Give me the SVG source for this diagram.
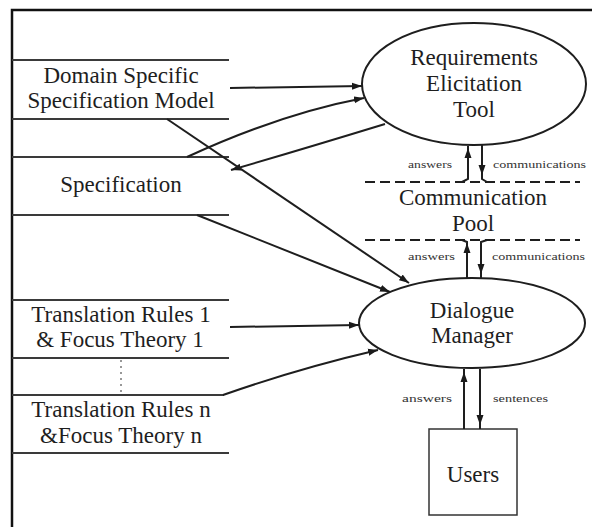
<svg xmlns="http://www.w3.org/2000/svg" width="592" height="527" viewBox="0 0 592 527">
  <defs>
    <marker id="ah" markerUnits="userSpaceOnUse" markerWidth="11" markerHeight="8" refX="10" refY="4" orient="auto">
      <path d="M0,0.5 L10,4 L0,7.5 z" fill="#1a1a1a"/>
    </marker>
    <style>
      .t { font-family: "Liberation Serif", "Times New Roman", serif; font-size: 23px; fill: #1e1e1e; text-anchor: middle; }
      .s { font-family: "Liberation Serif", "Times New Roman", serif; font-size: 11px; fill: #333; }
      .store { stroke: #3a3a3a; stroke-width: 2; fill: none; }
      .shape { stroke: #1e1e1e; stroke-width: 2; fill: none; }
      .c { stroke: #1e1e1e; stroke-width: 2; fill: none; }
      .ca { stroke: #1e1e1e; stroke-width: 2; fill: none; marker-end: url(#ah); }
      .dash { stroke: #1e1e1e; stroke-width: 2; stroke-dasharray: 10 5; fill: none; }
    </style>
  </defs>
  <rect width="592" height="527" fill="#fff"/>

  <!-- frame -->
  <path d="M12,527 L12,10 L592,10" stroke="#111" stroke-width="2.5" fill="none"/>

  <!-- data stores -->
  <g id="store-domain-model">
    <line class="store" x1="12" y1="60" x2="229" y2="60"/>
    <line class="store" x1="12" y1="119" x2="229" y2="119"/>
    <text class="t" x="121" y="83">Domain Specific</text>
    <text class="t" x="121" y="108">Specification Model</text>
  </g>
  <g id="store-specification">
    <line class="store" x1="12" y1="157" x2="229" y2="157"/>
    <line class="store" x1="12" y1="215" x2="229" y2="215"/>
    <text class="t" x="121" y="192">Specification</text>
  </g>
  <g id="store-rules-1">
    <line class="store" x1="12" y1="300" x2="229" y2="300"/>
    <line class="store" x1="12" y1="358" x2="229" y2="358"/>
    <text class="t" x="121" y="322">Translation Rules 1</text>
    <text class="t" x="120" y="347">&amp; Focus Theory 1</text>
    <line x1="121" y1="360" x2="121" y2="394" stroke="#777" stroke-width="1.5" stroke-dasharray="2 4"/>
  </g>
  <g id="store-rules-n">
    <line class="store" x1="12" y1="395" x2="224" y2="395"/>
    <line class="store" x1="12" y1="453" x2="229" y2="453"/>
    <text class="t" x="121" y="417">Translation Rules n</text>
    <text class="t" x="121" y="443">&amp;Focus Theory n</text>
  </g>

  <!-- processes -->
  <g id="requirements-elicitation-tool">
    <ellipse class="shape" cx="474" cy="84" rx="112" ry="61"/>
    <text class="t" x="474" y="65">Requirements</text>
    <text class="t" x="474" y="91">Elicitation</text>
    <text class="t" x="474" y="117">Tool</text>
  </g>
  <g id="communication-pool">
    <line class="dash" x1="365" y1="182" x2="580" y2="182"/>
    <line class="dash" x1="365" y1="240" x2="580" y2="240"/>
    <text class="t" x="473" y="205">Communication</text>
    <text class="t" x="473" y="231">Pool</text>
  </g>
  <g id="dialogue-manager">
    <ellipse class="shape" cx="472" cy="323" rx="113" ry="45"/>
    <text class="t" x="472" y="318">Dialogue</text>
    <text class="t" x="472" y="343">Manager</text>
  </g>
  <g id="users">
    <rect x="429" y="429" width="88" height="86" stroke="#333" stroke-width="1.5" fill="none"/>
    <text class="t" x="473" y="482">Users</text>
  </g>

  <!-- connectors -->
  <g id="connectors">
    <line class="ca" x1="230" y1="88" x2="362" y2="86"/>
    <path class="ca" d="M187,157 Q280,114 364,98"/>
    <path class="ca" d="M385,124 Q300,150 231,170"/>
    <line class="ca" x1="167" y1="119" x2="409" y2="283"/>
    <line class="ca" x1="197" y1="215" x2="390" y2="292"/>
    <line class="ca" x1="230" y1="327" x2="359" y2="325"/>
    <path class="ca" d="M223,395 Q300,368 378,350"/>

    <!-- tool / pool -->
    <path class="c" d="M462,182 L468,179 L468,146"/>
    <line class="ca" x1="468" y1="165" x2="468" y2="148"/>
    <path class="c" d="M482,145 L482,179 L487,182"/>
    <line class="ca" x1="482" y1="158" x2="482" y2="175"/>

    <!-- pool / dialogue manager -->
    <path class="c" d="M462,240 L467,242 L467,278"/>
    <line class="ca" x1="467" y1="262" x2="467" y2="243"/>
    <path class="c" d="M487,240 L481,242 L481,278"/>
    <line class="ca" x1="481" y1="258" x2="481" y2="274"/>

    <!-- dialogue manager / users -->
    <line class="c" x1="464" y1="369" x2="464" y2="429"/>
    <line class="ca" x1="464" y1="395" x2="464" y2="372"/>
    <line class="c" x1="480" y1="369" x2="480" y2="429"/>
    <line class="ca" x1="480" y1="400" x2="480" y2="425"/>

    <text class="s" x="408" y="168" textLength="44" lengthAdjust="spacingAndGlyphs">answers</text>
    <text class="s" x="493" y="168" textLength="93" lengthAdjust="spacingAndGlyphs">communications</text>
    <text class="s" x="408" y="260" textLength="47" lengthAdjust="spacingAndGlyphs">answers</text>
    <text class="s" x="492" y="260" textLength="93" lengthAdjust="spacingAndGlyphs">communications</text>
    <text class="s" x="402" y="402" textLength="50" lengthAdjust="spacingAndGlyphs">answers</text>
    <text class="s" x="493" y="402" textLength="55" lengthAdjust="spacingAndGlyphs">sentences</text>
  </g>
</svg>
